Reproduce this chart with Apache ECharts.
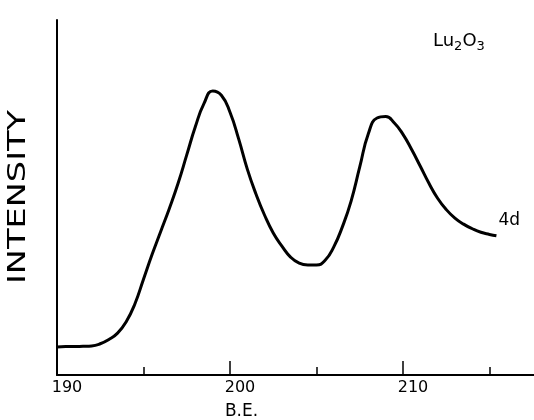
<!DOCTYPE html>
<html>
<head>
<meta charset="utf-8">
<script src="https://cdn.jsdelivr.net/npm/echarts@6/dist/echarts.min.js"></script>
<style>
  html, body { margin: 0; padding: 0; background: #fff; }
  #chart1 { width: 534px; height: 420px; }
</style>
</head>
<body>
<div id="chart1"></div>
<script>
// binding energy (eV) and intensity
const energia = [190.0, 190.5, 191.0, 191.5, 192.0, 192.5, 193.0, 193.5, 194.0, 194.5,
  195.0, 195.5, 196.0, 196.5, 197.0, 197.5, 198.0, 198.5, 199.0, 199.5,
  200.0, 200.5, 201.0, 201.5, 202.0, 202.5, 203.0, 203.5, 204.0, 204.5,
  205.0, 205.5, 206.0, 206.5, 207.0, 207.5, 208.0, 208.5, 209.0, 209.5,
  210.0, 210.5, 211.0, 211.5, 212.0, 212.5, 213.0, 213.5, 214.0, 214.5,
  215.0, 215.4];
const intensidad = [7.9, 8.0, 8.0, 8.1, 8.2, 8.8, 10.0, 11.8, 15.0, 20.0,
  27.0, 34.0, 40.5, 47.0, 54.0, 62.0, 70.0, 76.5, 80.0, 78.8,
  74.0, 66.5, 58.0, 51.0, 45.0, 40.0, 36.3, 33.2, 31.5, 31.0,
  31.0, 32.3, 36.1, 41.8, 49.0, 58.6, 68.0, 72.4, 72.8, 71.0,
  67.8, 63.5, 58.8, 54.0, 49.8, 46.6, 44.2, 42.5, 41.2, 40.2,
  39.6, 39.2];
const etiquetasX = [190, 200, 210];

const chart1 = echarts.init(document.getElementById('chart1'));

const option = {
  animation: false,
  textStyle: { fontFamily: 'DejaVu Sans', color: '#000' },
  grid: { left: 57, right: -42, top: 20, bottom: 45, containLabel: false, outerBoundsMode: 'none' },
  xAxis: {
    type: 'value',
    min: 190,
    max: 220,
    interval: 10,
    minorTick: { show: true, splitNumber: 2, length: 8, lineStyle: { color: '#000', width: 1.5 } },
    name: 'B.E.',
    nameLocation: 'middle',
    nameGap: 28,
    nameTextStyle: { fontSize: 17, color: '#000', padding: [0, 150, 0, 0] },
    axisLine: { lineStyle: { color: '#000', width: 2 } },
    axisTick: { inside: true, length: 14, lineStyle: { color: '#000', width: 1.5 } },
    splitLine: { show: false },
    axisLabel: {
      color: '#000',
      fontSize: 16,
      margin: 5,
      padding: [0, 0, 0, 20],
      showMaxLabel: false,
      formatter: v => (etiquetasX.includes(v) ? String(v) : '')
    }
  },
  yAxis: {
    type: 'value',
    min: 0,
    max: 100,
    axisLine: { show: true, lineStyle: { color: '#000', width: 2 } },
    axisTick: { show: false },
    axisLabel: { show: false },
    splitLine: { show: false }
  },
  series: [{
    type: 'line',
    data: energia.map((e, i) => [e, intensidad[i]]),
    smooth: 0.5,
    showSymbol: false,
    lineStyle: { color: '#000', width: 3 },
    endLabel: {
      show: true,
      formatter: '4d',
      fontSize: 17,
      color: '#000',
      offset: [-6, -15]
    }
  }],
  graphic: [{
    type: 'text',
    x: 19,
    y: 197,
    rotation: Math.PI / 2,
    scaleX: 1.4,
    style: {
      text: 'INTENSITY',
      fontSize: 24,
      fontFamily: 'DejaVu Sans',
      fill: '#000',
      align: 'center',
      verticalAlign: 'middle'
    }
  }, {
    type: 'text',
    left: 433,
    top: 32,
    style: {
      text: '{b|Lu}{s|2}{b|O}{s|3}',
      rich: {
        b: { fontSize: 18, fontFamily: 'DejaVu Sans', fill: '#000' },
        s: { fontSize: 13, fontFamily: 'DejaVu Sans', fill: '#000', padding: [12, 0, 0, 0] }
      }
    }
  }]
};

chart1.setOption(option);
</script>
</body>
</html>
